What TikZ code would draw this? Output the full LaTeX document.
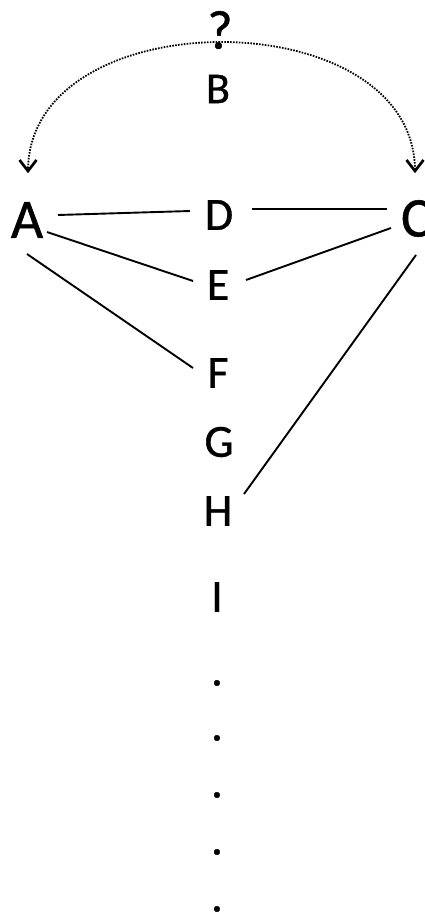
\documentclass[tikz,border=0pt]{standalone}
\usepackage{fontspec}
\setmainfont{Carlito}[FakeBold=0.8]
\newfontfamily\lblfont{Carlito}[FakeBold=0.8]
\usetikzlibrary{calc}
\begin{document}
\begin{tikzpicture}[x=1pt,y=-1pt,
  lbl/.style={inner sep=0pt,font=\lblfont\fontsize{46}{50}\selectfont},
  bigl/.style={inner sep=0pt,font=\lblfont\fontsize{56}{60}\selectfont},
  smalll/.style={inner sep=0pt,font=\lblfont\fontsize{44}{48}\selectfont},
  conn/.style={line width=1.9pt,black},
  dotarc/.style={line width=1.8pt,black,dash pattern=on 1.6pt off 1.3pt},
  chevron/.style={line width=2.7pt,black,line join=miter}]
\useasboundingbox (0,0) rectangle (425,915);
\node[inner sep=0pt,font=\lblfont\fontsize{55}{58}\selectfont] (Q) at (220,30) {?};
\node[smalll] (B) at (218,89) {B};
\node[bigl] (A) at (27,220) {A};
\node[bigl] (C) at (416,218.5) {C};
\node[lbl] (D) at (219,215) {D};
\node[lbl] (E) at (218,285) {E};
\node[lbl] (F) at (218,373) {F};
\node[lbl] (G) at (219,442) {G};
\node[lbl] (H) at (218,511) {H};
\node[lbl] (I) at (217,597) {I};
\node[lbl] (d1) at (217,683) {.};
\node[lbl] (d2) at (217,738) {.};
\node[lbl] (d3) at (217,795) {.};
\node[lbl] (d4) at (217,852) {.};
\node[lbl] (d5) at (217,909) {.};
\coordinate (arcL) at (28,171);
\coordinate (arcR) at (415,171);
\draw[dotarc] (arcL) .. controls (28,-1) and (415,-1) .. (arcR);
\draw[chevron] ($(arcL)+(-8.5,-11)$) -- (arcL) -- ($(arcL)+(8.5,-11)$);
\draw[chevron] ($(arcR)+(-8.5,-11)$) -- (arcR) -- ($(arcR)+(8.5,-11)$);
\draw[conn] ($(A)+(31,-5)$) -- ($(D)+(-29,-4)$);
\draw[conn] ($(D)+(33,-6)$) -- ($(C)+(-29,-9.5)$);
\draw[conn] ($(A)+(20,12)$) -- ($(E)+(-25,-4)$);
\draw[conn] ($(E)+(28,-5)$) -- ($(C)+(-25,9.5)$);
\draw[conn] ($(A)+(0,34)$) -- ($(F)+(-25,-5)$);
\draw[conn] ($(C)+(0,36.5)$) -- ($(H)+(26,-17)$);
\end{tikzpicture}
\end{document}
